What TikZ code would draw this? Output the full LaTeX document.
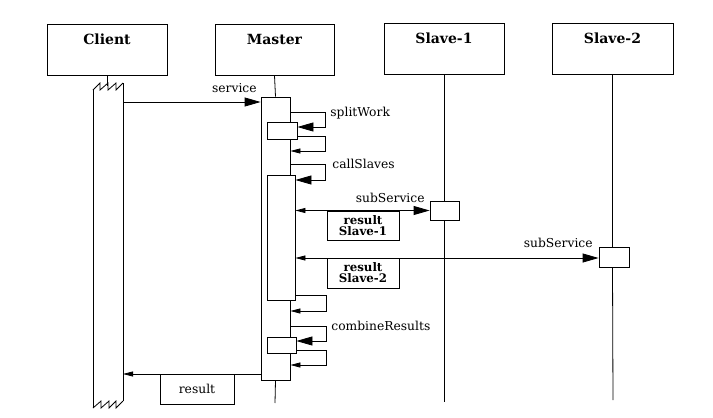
\documentclass[tikz,border=0pt]{standalone}
\usepackage{fontspec}
\setmainfont{DejaVu Serif}
\usetikzlibrary{arrows.meta}
\begin{document}
\begin{tikzpicture}[x=1pt,y=-1pt,line width=0.8pt,
  hdr/.style={draw,line width=0.9pt,minimum width=120pt,minimum height=51pt,inner sep=0pt},
  hdrtxt/.style={font=\fontsize{14}{16}\selectfont\bfseries,anchor=base,inner sep=0pt},
  act/.style={draw,fill=white,inner sep=0pt},
  lbl/.style={font=\fontsize{12.3}{14}\selectfont,inner sep=0pt},
  resbox/.style={draw,fill=white,inner sep=0pt,align=center,font=\fontsize{11.8}{13}\selectfont\bfseries},
  big/.style={-{Triangle[length=16pt,width=9pt]}},
  small/.style={-{Triangle[length=10pt,width=5pt]}},
  both/.style={{Triangle[length=10pt,width=5pt]}-{Triangle[length=16pt,width=9pt]}}]
\useasboundingbox (0,0) rectangle (713,418);
% headers
\node[hdr] (client) at (107,49.5) {};
\node[hdr,minimum width=119pt] (master) at (274.5,49.5) {};
\node[hdr] (slave1) at (444,49) {};
\node[hdr,minimum width=121pt] (slave2) at (612.5,49) {};
\node[hdrtxt] (tclient) at (107,44) {Client};
\node[hdrtxt] (tmaster) at (274.5,44) {Master};
\node[hdrtxt] (tslave1) at (444,43.5) {Slave-1};
\node[hdrtxt] (tslave2) at (612.5,43.5) {Slave-2};
% client activation (with broken ends)
\coordinate (ctop) at (107,86);
\coordinate (cbarE) at (123,102);
\coordinate (cbarR) at (123,374);
\draw (client.south) -- (ctop);
\draw (123,83) -- (123,401);
\draw (93,90) -- (93,408);
\draw (93,90) -- (100,83) -- (100,90) -- (108,83) -- (108,90) -- (116,83) -- (116,90) -- (123,83);
\draw (93,408) -- (101,401) -- (101,408) -- (109,401) -- (109,408) -- (116,401) -- (116,408) -- (123,401);
% master activation
\node[act,minimum width=29pt,minimum height=283pt] (mbar) at (275.5,238.5) {};
\coordinate (mend) at (275,403);
\draw (master.south) -- (mbar.north);
\draw (mbar.south) -- (mend);
\node[act,minimum width=30pt,minimum height=17pt] (n1) at (282,130.5) {};
\node[act,minimum width=28pt,minimum height=125pt] (n2) at (281,237.5) {};
\node[act,minimum width=29pt,minimum height=16pt] (n3) at (281.5,345) {};
% slaves
\node[act,minimum width=29pt,minimum height=19pt] (a1) at (444.5,210.5) {};
\node[act,minimum width=30pt,minimum height=20pt] (a2) at (614,257) {};
\coordinate (s1end) at (444,402);
\coordinate (s2end) at (613,400);
\draw (slave1.south) -- (slave1.south |- a1.north);
\draw (slave1.south |- a1.south) -- (s1end);
\draw (slave2.south) -- (slave2.south |- a2.north);
\draw (slave2.south |- a2.south) -- (s2end);
% service
\draw[big] (cbarE) -- (cbarE -| mbar.west);
\node[lbl,anchor=base east] (lservice) at (257,92) {service};
% splitWork
\draw[big] (mbar.east |- 0,112) -- (325,112) -- (325,127) -- (n1.east |- 0,127);
\draw[small] (n1.east |- 0,136) -- (325,136) -- (325,151) -- (mbar.east |- 0,151);
\node[lbl,anchor=base west] (lsplit) at (330,116) {splitWork};
% callSlaves
\draw[big] (mbar.east |- 0,164) -- (325,164) -- (325,180) -- (n2.east |- 0,180);
\node[lbl,anchor=base west] (lcall) at (332,168) {callSlaves};
% subService
\draw[both] (n2.east |- a1.west) -- (a1.west);
\node[lbl,anchor=base east] (lsub1) at (425,202) {subService};
\draw[both] (n2.east |- 0,258) -- (a2.west |- 0,258);
\node[lbl,anchor=base east] (lsub2) at (593,247) {subService};
\node[resbox,minimum width=72pt,minimum height=29pt] (r1) at (363,225.5) {result\\[-2pt]Slave-1};
\node[resbox,minimum width=72pt,minimum height=30pt] (r2) at (363,273) {result\\[-2pt]Slave-2};
% return from slaves
\draw[small] (n2.east |- 0,295) -- (326,295) -- (326,311) -- (mbar.east |- 0,311);
% combineResults
\draw[big] (mbar.east |- 0,326) -- (326,326) -- (326,341) -- (n3.east |- 0,341);
\draw[small] (n3.east |- 0,350) -- (326,350) -- (326,365) -- (mbar.east |- 0,365);
\node[lbl,anchor=base west] (lcomb) at (331,330) {combineResults};
% result
\draw[small] (mbar.west |- cbarR) -- (cbarR);
\node[draw,fill=white,inner sep=0pt,minimum width=74pt,minimum height=30pt,font=\fontsize{12.3}{14}\selectfont] (rc) at (197,389) {result};
\end{tikzpicture}
\end{document}
